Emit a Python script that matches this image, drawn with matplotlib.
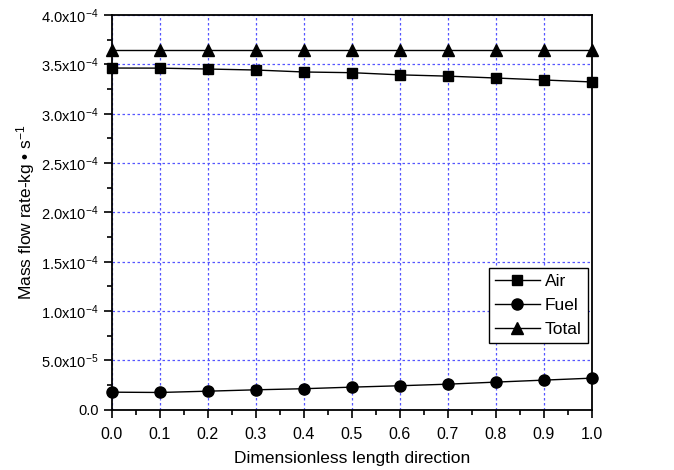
import matplotlib
matplotlib.use('Agg')
import matplotlib.pyplot as plt
from matplotlib.ticker import FuncFormatter, MultipleLocator

plt.rcParams['font.family'] = ['Liberation Sans', 'DejaVu Sans']
plt.rcParams['mathtext.fontset'] = 'custom'
plt.rcParams['mathtext.rm'] = 'Liberation Sans'
plt.rcParams['mathtext.it'] = 'Liberation Sans:italic'
plt.rcParams['mathtext.bf'] = 'Liberation Sans:bold'

x = [0.0, 0.1, 0.2, 0.3, 0.4, 0.5, 0.6, 0.7, 0.8, 0.9, 1.0]
air = [3.463e-4, 3.462e-4, 3.453e-4, 3.443e-4, 3.423e-4, 3.416e-4,
       3.394e-4, 3.381e-4, 3.362e-4, 3.342e-4, 3.322e-4]
fuel = [0.179e-4, 0.176e-4, 0.189e-4, 0.203e-4, 0.214e-4, 0.230e-4,
        0.244e-4, 0.260e-4, 0.281e-4, 0.301e-4, 0.321e-4]
total = [3.642e-4] * 11


def ytick_fmt(v, pos):
    if abs(v) < 1e-12:
        return '0.0'
    exp = int(f'{v:.1e}'.split('e')[1])
    mant = v / 10 ** exp
    return f'{mant:.1f}x10$^{{{exp}}}$'


fig = plt.figure(figsize=(6.74, 4.70), dpi=100)
ax = fig.add_axes([0.166, 0.128, 0.712, 0.840])

ax.plot(x, air, color='black', lw=1, marker='s', ms=7, label='Air', clip_on=False, zorder=3)
ax.plot(x, fuel, color='black', lw=1, marker='o', ms=8, label='Fuel', clip_on=False, zorder=3)
ax.plot(x, total, color='black', lw=1, marker='^', ms=8, label='Total', clip_on=False, zorder=3)

ax.set_xlim(0, 1.0)
ax.set_ylim(0, 4.0e-4)
ax.xaxis.set_major_locator(MultipleLocator(0.1))
ax.xaxis.set_minor_locator(MultipleLocator(0.05))
ax.yaxis.set_major_locator(MultipleLocator(0.5e-4))
ax.yaxis.set_minor_locator(MultipleLocator(0.25e-4))
ax.yaxis.set_major_formatter(FuncFormatter(ytick_fmt))
ax.xaxis.set_major_formatter(FuncFormatter(lambda v, p: f'{v:.1f}'))

ax.tick_params(which='both', direction='out', top=False, right=False, labelsize=11.5)
ax.tick_params(axis='y', labelsize=10.5)
ax.tick_params(which='major', length=6, width=1.2)
ax.tick_params(which='minor', length=3.5, width=1.2)
ax.tick_params(axis='x', pad=6)
for s in ax.spines.values():
    s.set_linewidth(1.3)

ax.grid(True, which='major', color='#5555ff', linestyle=(0, (2, 2)), linewidth=0.9)
ax.set_axisbelow(True)

ax.set_xlabel('Dimensionless length direction', fontsize=12.5, labelpad=7)
ax.set_ylabel('Mass flow rate-kg \u2022 s$^{-1}$', fontsize=12.5, labelpad=3)

leg = ax.legend(loc='lower right', bbox_to_anchor=(0.992, 0.170), borderaxespad=0,
                fontsize=12.5, fancybox=False, edgecolor='black', framealpha=1,
                handlelength=2.6, handletextpad=0.3, labelspacing=0.5,
                borderpad=0.35)
leg.get_frame().set_linewidth(1)

fig.savefig('out.png', dpi=100)
